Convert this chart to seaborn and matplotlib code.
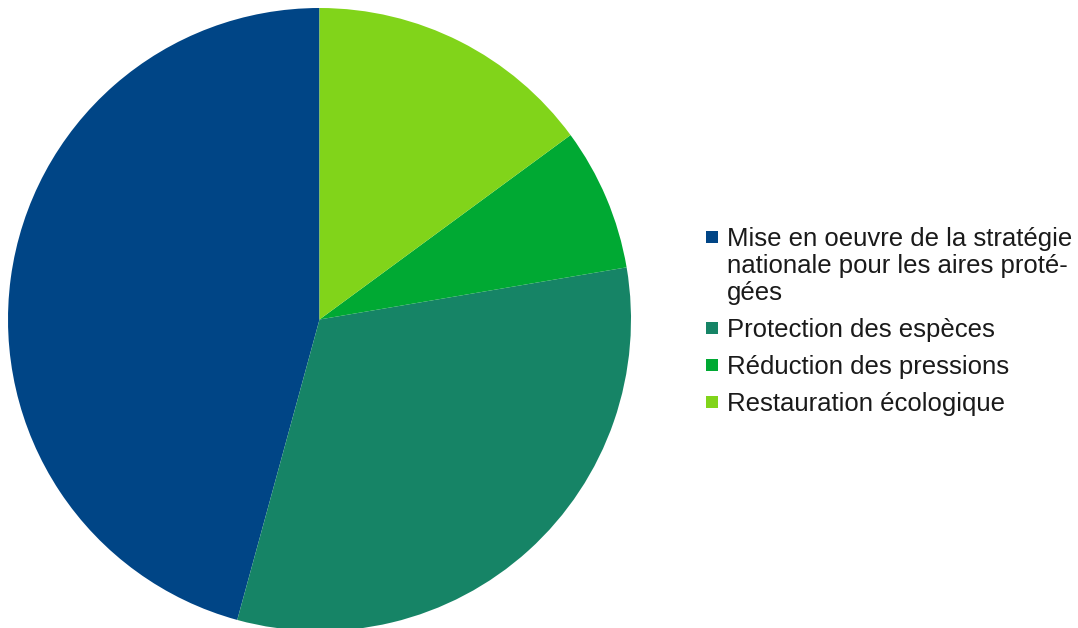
import seaborn as sns
import matplotlib.pyplot as plt
from matplotlib.patches import Rectangle

# data: share of budget by action
labels = [
    "Mise en oeuvre de la stratégie\nnationale pour les aires proté-\ngées",
    "Protection des espèces",
    "Réduction des pressions",
    "Restauration écologique",
]
values = [45.7, 31.9, 7.4, 14.9]
colors = ["#004586", "#168466", "#00a933", "#81d41a"]

sns.set_theme(style="white")
plt.rcParams["font.family"] = ["Liberation Sans", "DejaVu Sans"]

W, H = 1078, 628
fig = plt.figure(figsize=(W / 100, H / 100), dpi=100)
ax = fig.add_axes([8 / W, -3 / H, 623 / W, 623 / H])

wedges, _ = ax.pie(values, colors=colors, startangle=90, counterclock=True,
                   radius=1.0, wedgeprops={"linewidth": 0})
ax.set_xlim(-1, 1)
ax.set_ylim(-1, 1)
ax.set_aspect("equal")
ax.axis("off")

# legend, handle aligned with the first line of each entry
line_centers = [237, 328, 365, 402]  # pixel rows from the top
for lab, col, yc in zip(labels, colors, line_centers):
    fig.patches.append(Rectangle((706 / W, 1 - (yc + 6) / H), 12 / W, 12 / H,
                                 transform=fig.transFigure, facecolor=col,
                                 edgecolor="none"))
    fig.text(727 / W, 1 - (yc - 10) / H, lab, va="top", ha="left",
             fontsize=18.5, color="#1a1a1a", linespacing=1.17)

fig.savefig("out.png", dpi=100)
